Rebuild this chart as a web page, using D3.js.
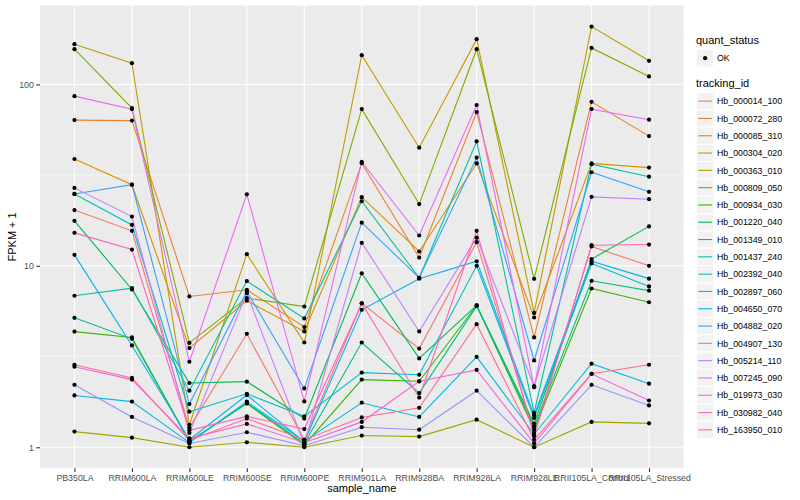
<!DOCTYPE html>
<html>
<head>
<meta charset="utf-8">
<script src="https://cdn.jsdelivr.net/npm/d3@7"></script>
<style>
  body { margin: 0; background: #fff; }
  text { font-family: "Liberation Sans", Arial, Helvetica, sans-serif; }
</style>
</head>
<body>
<div id="chart"></div>
<script>
const samples = ['PB350LA', 'RRIM600LA', 'RRIM600LE', 'RRIM600SE', 'RRIM600PE', 'RRIM901LA',
                 'RRIM928BA', 'RRIM928LA', 'RRIM928LE', 'RRII105LA_Control', 'RRII105LA_Stressed'];
const tracking_ids = ['Hb_000014_100', 'Hb_000072_280', 'Hb_000085_310', 'Hb_000304_020', 'Hb_000363_010',
                      'Hb_000809_050', 'Hb_000934_030', 'Hb_001220_040', 'Hb_001349_010', 'Hb_001437_240',
                      'Hb_002392_040', 'Hb_002897_060', 'Hb_004650_070', 'Hb_004882_020', 'Hb_004907_130',
                      'Hb_005214_110', 'Hb_007245_090', 'Hb_019973_030', 'Hb_030982_040', 'Hb_163950_010'];
const y_ticks = [1, 10, 100];

// FPKM + 1 per gene, in sample order
const hb_000014_100 = [20.3, 15.6, 1.28, 4.22, 1.1, 6.23, 3.5, 13.5, 1.2, 12.8, 10.0];
const hb_000072_280 = [63.6, 63.2, 6.78, 7.38, 4.6, 36.8, 11.1, 70.4, 4.03, 80.2, 51.9];
const hb_000085_310 = [38.8, 28.0, 3.52, 6.42, 4.35, 23.9, 12.0, 36.7, 5.19, 36.7, 34.8];
const hb_000304_020 = [166.7, 131, 1.33, 11.6, 3.78, 145, 44.8, 177.6, 5.5, 208.5, 135];
const hb_000363_010 = [1.22, 1.13, 1.0, 1.065, 1.0, 1.16, 1.145, 1.42, 1.0, 1.38, 1.355];
const hb_000809_050 = [156.4, 74.1, 3.76, 6.64, 5.96, 73.1, 21.9, 156.4, 8.48, 159, 110.7];
const hb_000934_030 = [4.34, 4.03, 1.08, 1.74, 1.03, 2.36, 2.31, 6.05, 1.25, 7.5, 6.3];
const hb_001220_040 = [17.7, 7.41, 2.26, 2.3, 1.44, 9.1, 3.09, 6.05, 1.35, 10.9, 16.5];
const hb_001349_010 = [5.17, 3.96, 1.07, 1.755, 1.05, 3.78, 1.99, 6.0, 1.3, 8.27, 7.3];
const hb_001437_240 = [6.84, 7.54, 2.05, 8.24, 5.13, 22.7, 8.6, 48.6, 1.55, 36.3, 31.0];
const hb_002392_040 = [24.9, 16.8, 1.57, 1.97, 1.48, 2.58, 2.51, 10.0, 1.45, 10.3, 7.7];
const hb_002897_060 = [1.93, 1.785, 1.06, 1.785, 1.08, 1.76, 1.47, 3.15, 1.18, 2.89, 2.24];
const hb_004650_070 = [11.5, 3.64, 1.1, 1.94, 1.07, 5.72, 8.5, 10.6, 1.5, 10.6, 8.5];
const hb_004882_020 = [24.9, 28.0, 1.73, 7.22, 2.11, 17.3, 8.6, 39.5, 3.01, 32.8, 25.6];
const hb_004907_130 = [2.21, 1.47, 1.05, 1.21, 1.02, 1.29, 1.25, 2.05, 1.0, 2.21, 1.70];
const hb_005214_110 = [26.9, 18.7, 1.2, 7.07, 1.04, 13.4, 4.35, 14.3, 2.17, 24.0, 23.3];
const hb_007245_090 = [86.2, 73.1, 2.96, 24.8, 1.79, 37.4, 14.7, 77.0, 2.14, 73.1, 63.9];
const hb_019973_030 = [2.78, 2.36, 1.12, 1.345, 1.06, 1.38, 2.31, 2.67, 1.05, 2.54, 1.81];
const hb_030982_040 = [15.2, 12.3, 1.24, 1.48, 1.26, 6.2, 1.88, 15.6, 1.15, 13.0, 13.1];
const hb_163950_010 = [2.85, 2.41, 1.09, 1.44, 1.1, 1.46, 1.65, 4.77, 1.1, 2.54, 2.85];

const series_values = [hb_000014_100, hb_000072_280, hb_000085_310, hb_000304_020, hb_000363_010,
                       hb_000809_050, hb_000934_030, hb_001220_040, hb_001349_010, hb_001437_240,
                       hb_002392_040, hb_002897_060, hb_004650_070, hb_004882_020, hb_004907_130,
                       hb_005214_110, hb_007245_090, hb_019973_030, hb_030982_040, hb_163950_010];

const WIDTH = 800, HEIGHT = 500;
const PANEL = { LEFT: 40, RIGHT: 683.5, TOP: 5.5, BOTTOM: 468.3 };

// ggplot default hue palette for 20 levels
const hue_pal = ['#F8766D', '#EA8331', '#D89000', '#C09B00', '#A3A500', '#7CAE00', '#39B600', '#00BB4E',
                 '#00BF7D', '#00C1A3', '#00BFC4', '#00BAE0', '#00B0F6', '#35A2FF', '#9590FF', '#C77CFF',
                 '#E76BF3', '#FA62DB', '#FF62BC', '#FF6C91'];
const colour = d3.scaleOrdinal().domain(tracking_ids).range(hue_pal);

const series = tracking_ids.map((id, i) => ({
    id: id,
    points: samples.map((s, j) => ({ sample: s, value: series_values[i][j] }))
}));
const all_points = series.flatMap(d => d.points);

let svg = d3.select('#chart').append('svg')
    .attr('width', WIDTH)
    .attr('height', HEIGHT);

let x = d3.scalePoint().domain(samples).range([PANEL.LEFT, PANEL.RIGHT]).padding(0.6);

// log domain expanded by 5% like ggplot
let lmin = Math.log10(d3.min(all_points, d => d.value)),
    lmax = Math.log10(d3.max(all_points, d => d.value)),
    lpad = (lmax - lmin) * 0.05;
let y = d3.scaleLog().domain([10 ** (lmin - lpad), 10 ** (lmax + lpad)]).range([PANEL.BOTTOM, PANEL.TOP]);

// panel background
svg.append('rect')
    .attr('x', PANEL.LEFT).attr('y', PANEL.TOP)
    .attr('width', PANEL.RIGHT - PANEL.LEFT).attr('height', PANEL.BOTTOM - PANEL.TOP)
    .attr('fill', '#EBEBEB');

// grid
let minor = [0.1, 1, 10, 100, 1000].map(d => d * Math.sqrt(10)).filter(d => d > y.domain()[0] && d < y.domain()[1]);
svg.append('g').selectAll('line').data(minor).enter().append('line')
    .attr('x1', PANEL.LEFT).attr('x2', PANEL.RIGHT)
    .attr('y1', d => y(d)).attr('y2', d => y(d))
    .attr('stroke', '#fff').attr('stroke-width', 0.55);
svg.append('g').selectAll('line').data(y_ticks).enter().append('line')
    .attr('x1', PANEL.LEFT).attr('x2', PANEL.RIGHT)
    .attr('y1', d => y(d)).attr('y2', d => y(d))
    .attr('stroke', '#fff').attr('stroke-width', 1.1);
svg.append('g').selectAll('line').data(samples).enter().append('line')
    .attr('x1', d => x(d)).attr('x2', d => x(d))
    .attr('y1', PANEL.TOP).attr('y2', PANEL.BOTTOM)
    .attr('stroke', '#fff').attr('stroke-width', 1.1);

// axes
let x_axis = svg.append('g')
    .attr('transform', `translate(0,${PANEL.BOTTOM})`)
    .call(d3.axisBottom(x).tickSize(3.7).tickPadding(2.5));
let y_axis = svg.append('g')
    .attr('transform', `translate(${PANEL.LEFT},0)`)
    .call(d3.axisLeft(y).tickValues(y_ticks).tickFormat(d3.format('d')).tickSize(3.7).tickPadding(2.5));
[x_axis, y_axis].forEach(a => {
    a.select('.domain').remove();
    a.selectAll('.tick line').attr('stroke', '#333333').attr('stroke-width', 1.1);
    a.selectAll('.tick text').attr('fill', '#4D4D4D').attr('font-size', '8.8px')
        .attr('font-family', '"Liberation Sans", Arial, sans-serif');
});

svg.append('text')
    .attr('x', (PANEL.LEFT + PANEL.RIGHT) / 2).attr('y', 491.5)
    .attr('text-anchor', 'middle').attr('font-size', '11px')
    .text('sample_name');
svg.append('text')
    .attr('transform', `translate(16,${(PANEL.TOP + PANEL.BOTTOM) / 2}) rotate(-90)`)
    .attr('text-anchor', 'middle').attr('font-size', '11px')
    .text('FPKM + 1');

// lines
let line = d3.line().x(d => x(d.sample)).y(d => y(d.value));
svg.append('g').selectAll('path').data(series).enter().append('path')
    .attr('d', d => line(d.points))
    .attr('fill', 'none')
    .attr('stroke', d => colour(d.id))
    .attr('stroke-width', 1.1);

// points
svg.append('g').selectAll('circle').data(all_points).enter().append('circle')
    .attr('cx', d => x(d.sample))
    .attr('cy', d => y(d.value))
    .attr('r', 2.1)
    .attr('fill', '#000');

// legends
let legend = svg.append('g').attr('transform', 'translate(696,0)');
const KEY = 17.3;
legend.append('text').attr('x', 0).attr('y', 44).attr('font-size', '11px').text('quant_status');
legend.append('rect').attr('x', 0.5).attr('y', 49.5).attr('width', KEY).attr('height', KEY)
    .attr('fill', '#F2F2F2').attr('stroke', '#fff');
legend.append('circle').attr('cx', 0.5 + KEY / 2).attr('cy', 49.5 + KEY / 2).attr('r', 2.1).attr('fill', '#000');
legend.append('text').attr('x', 21).attr('y', 49.5 + KEY / 2 + 3.2).attr('font-size', '8.8px').text('OK');

legend.append('text').attr('x', 0).attr('y', 87).attr('font-size', '11px').text('tracking_id');
let keys = legend.selectAll('g.key').data(tracking_ids).enter().append('g')
    .attr('class', 'key')
    .attr('transform', (d, i) => `translate(0.5,${92.5 + i * KEY})`);
keys.append('rect').attr('width', KEY).attr('height', KEY)
    .attr('fill', '#F2F2F2').attr('stroke', '#fff');
keys.append('line').attr('x1', 1.7).attr('x2', KEY - 1.7)
    .attr('y1', KEY / 2).attr('y2', KEY / 2)
    .attr('stroke', d => colour(d)).attr('stroke-width', 1.1);
keys.append('text').attr('x', 20.5).attr('y', KEY / 2 + 3.2)
    .attr('font-size', '8.8px').attr('fill', '#000').text(d => d);
</script>
</body>
</html>
